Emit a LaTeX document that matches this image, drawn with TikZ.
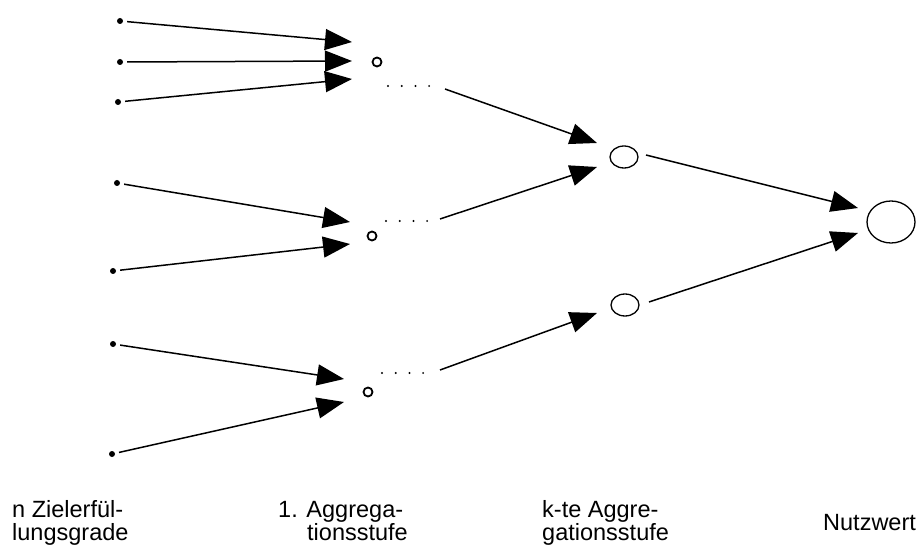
\documentclass[tikz,border=0pt]{standalone}
\usepackage{fontspec}
\setmainfont{Liberation Sans}
\usetikzlibrary{arrows.meta,shapes.geometric}
\begin{document}
\begin{tikzpicture}[x=1pt,y=-1pt,
  src/.style={circle,fill=black,inner sep=0pt,minimum size=6pt},
  small/.style={circle,draw,line width=1.8pt,inner sep=0pt,minimum size=9pt},
  mid/.style={ellipse,draw,line width=1.3pt,inner sep=0pt,minimum width=28pt,minimum height=22pt},
  big/.style={ellipse,draw,line width=1.3pt,inner sep=0pt,minimum width=48pt,minimum height=42pt},
  arr/.style={line width=1.5pt,-{Triangle[length=27pt,width=21pt]}},
  dotrow/.style={line width=2.2pt,line cap=round,dash pattern=on 0pt off 13.7pt},
  lbl/.style={font=\fontsize{23.5}{24}\selectfont,inner sep=0pt,anchor=base west}]
\useasboundingbox (0,0) rectangle (918,545);
% sources
\node[src] (s1) at (120,21) {};
\node[src] (s2) at (120,62) {};
\node[src] (s3) at (118,102) {};
\node[src] (s4) at (117,183) {};
\node[src] (s5) at (113,271) {};
\node[src] (s6) at (113,344) {};
\node[src] (s7) at (112,454) {};
% first-stage nodes
\node[small] (a1) at (377,62) {};
\node[small] (a2) at (372,236) {};
\node[small] (a3) at (368,392) {};
% tips
\coordinate (t1) at (352,42);
\coordinate (t2) at (352,61);
\coordinate (t3) at (352,79);
\coordinate (t4) at (350,222);
\coordinate (t5) at (350,244);
\coordinate (t6) at (344,379);
\coordinate (t7) at (344,402);
\begin{scope}[shorten <=4pt]
\draw[arr] (s1) -- (t1);
\draw[arr] (s2) -- (t2);
\draw[arr] (s3) -- (t3);
\draw[arr] (s4) -- (t4);
\draw[arr] (s5) -- (t5);
\draw[arr] (s6) -- (t6);
\draw[arr] (s7) -- (t7);
\end{scope}
% dotted rows
\coordinate (d1a) at (388,86); \coordinate (d1b) at (430,86);
\coordinate (d2a) at (386,221); \coordinate (d2b) at (428,221);
\coordinate (d3a) at (382,373); \coordinate (d3b) at (424,373);
\draw[dotrow] (d1a) -- (d1b);
\draw[dotrow] (d2a) -- (d2b);
\draw[dotrow] (d3a) -- (d3b);
% k-th stage
\node[mid] (k1) at (624,157) {};
\node[mid] (k2) at (625,305) {};
\coordinate (e1) at (445,89);
\coordinate (e2) at (440,219);
\coordinate (e3) at (440,370);
\coordinate (u1) at (597,143);
\coordinate (u2) at (597,167);
\coordinate (u3) at (597,313);
\draw[arr] (e1) -- (u1);
\draw[arr] (e2) -- (u2);
\draw[arr] (e3) -- (u3);
% Nutzwert
\node[big] (n) at (891,222) {};
\coordinate (f1) at (646,155);
\coordinate (f2) at (649,302);
\coordinate (v1) at (858,208);
\coordinate (v2) at (858,233);
\draw[arr] (f1) -- (v1);
\draw[arr] (f2) -- (v2);
% labels
\node[lbl] (L1a) at (12,517) {n Zielerfül-};
\node[lbl] (L1b) at (12,540) {lungsgrade};
\node[lbl] (L2a) at (278,517) {1. Aggrega-};
\node[lbl] (L2b) at (307,540) {tionsstufe};
\node[lbl] (L3a) at (542,517) {k-te Aggre-};
\node[lbl] (L3b) at (542,540) {gationsstufe};
\node[lbl] (L4) at (823,530) {Nutzwert};
\end{tikzpicture}
\end{document}
